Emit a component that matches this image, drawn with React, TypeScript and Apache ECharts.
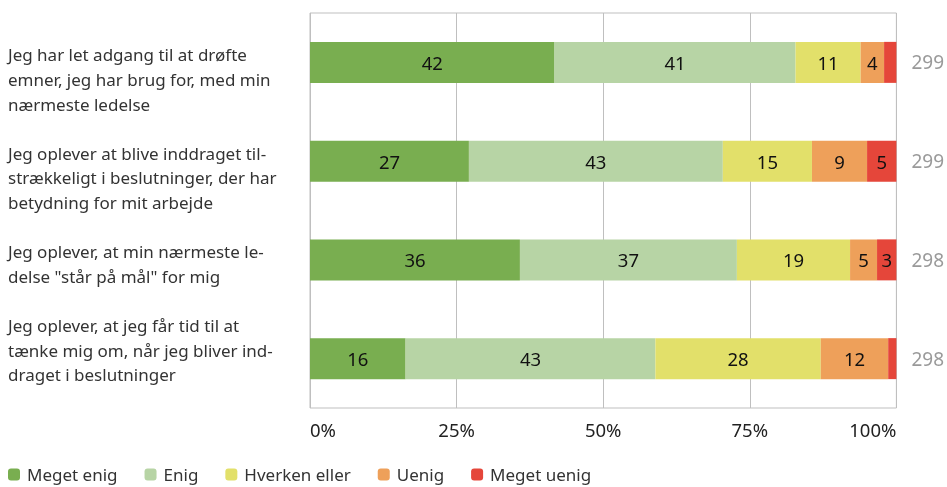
import React, { useEffect, useRef } from "react";
import * as echarts from "echarts";

const categories = [
  "Jeg har let adgang til at drøfte\nemner, jeg har brug for, med min\nnærmeste ledelse",
  "Jeg oplever at blive inddraget til-\nstrækkeligt i beslutninger, der har\nbetydning for mit arbejde",
  "Jeg oplever, at min nærmeste le-\ndelse \"står på mål\" for mig",
  "Jeg oplever, at jeg får tid til at\ntænke mig om, når jeg bliver ind-\ndraget i beslutninger",
];
const nValues = ["299", "299", "298", "298"];
const seriesNames = ["Meget enig", "Enig", "Hverken eller", "Uenig", "Meget uenig"];
const megetEnig = [41.7, 27.1, 35.8, 16.3];
const enig = [41.1, 43.3, 37.0, 42.6];
const hverkenEller = [11.1, 15.2, 19.3, 28.2];
const uenig = [4.0, 9.4, 4.6, 11.5];
const megetUenig = [2.1, 5.0, 3.3, 1.4];
const colors = ["#79ae50", "#b7d4a5", "#e2e06a", "#eea05a", "#e5463a"];
const xTicks = [0, 25, 50, 75, 100];

const FONT = "Noto Sans";

export default function App() {
  const ref = useRef<HTMLDivElement>(null);
  useEffect(() => {
    if (!ref.current) return;
    const chart = echarts.init(ref.current, null, { renderer: "svg" });
    const allSeries = [megetEnig, enig, hverkenEller, uenig, megetUenig];
    chart.setOption({
      animation: false,
      textStyle: { fontFamily: FONT },
      color: colors,
      legend: {
        left: 8,
        top: 466,
        padding: 0,
        icon: "roundRect",
        itemWidth: 12,
        itemHeight: 12,
        itemGap: 27,
        textStyle: { fontSize: 17, color: "#333", fontFamily: FONT, padding: [0, 0, 0, 2] },
        data: seriesNames,
      },
      graphic: [
        {
          type: "text",
          left: 8,
          top: 42.7,
          style: {
            text: categories.join("\n\n"),
            fontSize: 17,
            lineHeight: 24.6,
            fill: "#333",
            fontFamily: FONT,
          },
        },
      ],
      grid: {
        left: 310,
        right: 50,
        top: 13,
        bottom: 79,
        show: true,
        borderColor: "#bfbfbf",
        borderWidth: 1,
      },
      xAxis: {
        type: "value",
        min: xTicks[0],
        max: xTicks[xTicks.length - 1],
        interval: 25,
        axisLine: { show: false },
        axisTick: { show: false },
        splitLine: { show: true, lineStyle: { color: "#bfbfbf", width: 1 } },
        axisLabel: {
          formatter: "{value}%",
          fontSize: 18.5,
          color: "#222",
          margin: 12,
          fontFamily: FONT,
          alignMinLabel: "left",
          alignMaxLabel: "right",
        },
      },
      yAxis: [
        {
          type: "category",
          data: categories,
          inverse: true,
          axisLine: { show: false },
          axisTick: { show: false },
          axisLabel: { show: false },
        },
        {
          type: "category",
          data: nValues,
          inverse: true,
          position: "right",
          axisLine: { show: false },
          axisTick: { show: false },
          axisLabel: {
            align: "left",
            margin: 15,
            fontSize: 19,
            color: "#9a9a9a",
            fontFamily: FONT,
          },
        },
      ],
      series: allSeries.map((d, i) => ({
        name: seriesNames[i],
        type: "bar",
        stack: "total",
        barWidth: 41,
        yAxisIndex: 0,
        data: d,
        itemStyle: { color: colors[i] },
        label: {
          show: true,
          position: "inside",
          color: "#111",
          fontSize: 18.5,
          fontFamily: FONT,
          formatter: (p: any) => (p.value >= 2.5 ? String(Math.round(p.value)) : ""),
        },
      })),
    });
    return () => chart.dispose();
  }, []);
  return (
    <div
      ref={ref}
      style={{ position: "fixed", left: 0, top: 0, width: 947, height: 487 }}
    />
  );
}
